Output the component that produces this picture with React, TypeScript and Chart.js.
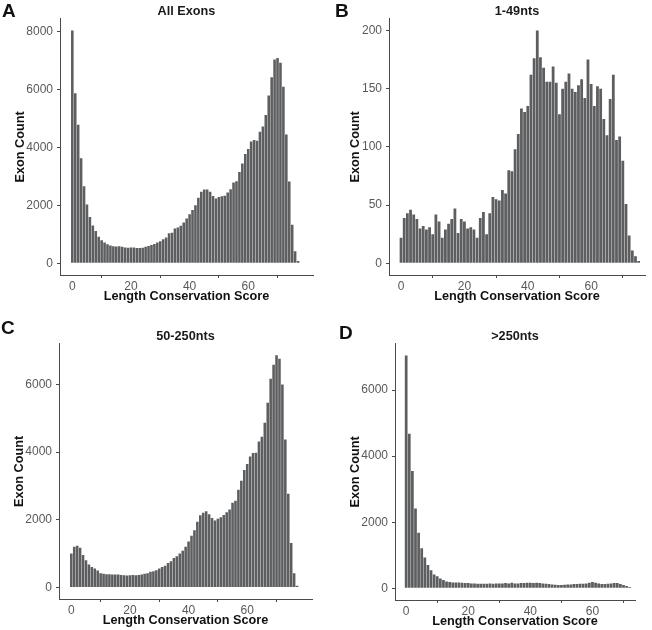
import React, { useEffect, useRef } from "react";
import { Chart, registerables } from "chart.js";

Chart.register(...registerables);

// ---- Data (exon counts per length conservation score bin) ----
const allExons = [
  8050, 5880, 4790, 3630, 2660, 2030, 1600, 1310, 1120, 920,
  800, 720, 660, 620, 590, 580, 590, 570, 550, 540,
  550, 550, 530, 530, 540, 570, 600, 630, 670, 720,
  760, 830, 890, 1040, 1060, 1200, 1240, 1300, 1410, 1550,
  1700, 1840, 2010, 2270, 2470, 2550, 2550, 2470, 2330, 2240,
  2290, 2320, 2340, 2450, 2560, 2790, 2840, 3160, 3450, 3780,
  3950, 4210, 4260, 4240, 4550, 4730, 5130, 5800, 6430, 7040,
  7100, 6930, 6100, 4450, 2830, 1330, 420, 80,
];

const nts1to49 = [
  22, 39, 43, 46, 42, 38, 30, 32, 29, 31,
  25, 42, 36, 22, 29, 34, 38, 47, 26, 38,
  36, 30, 31, 29, 22, 39, 44, 25, 43, 57,
  55, 54, 63, 60, 80, 79, 98, 111, 133, 130,
  135, 162, 176, 200, 177, 168, 156, 156, 169, 155,
  128, 150, 156, 163, 150, 147, 153, 158, 142, 175,
  154, 135, 152, 150, 124, 110, 141, 162, 106, 109,
  88, 51, 24, 11, 6, 2,
];

const nts50to250 = [
  1000, 1200, 1230, 1170, 960, 800, 680, 600, 560, 500,
  420, 400, 390, 390, 380, 380, 380, 370, 360, 350,
  360, 370, 360, 370, 380, 400, 420, 460, 480, 510,
  560, 600, 640, 720, 770, 870, 920, 1000, 1080, 1200,
  1360, 1530, 1690, 1940, 2130, 2210, 2250, 2160, 2050, 1980,
  2030, 2070, 2140, 2220, 2300, 2500, 2560, 2890, 3150, 3470,
  3650, 3870, 3970, 3980, 4310, 4450, 4870, 5460, 6170, 6580,
  6860, 6760, 6000, 4370, 2770, 1310, 420, 50,
];

const ntsOver250 = [
  7050, 4680, 3550, 2420, 1680, 1210, 930, 710, 550, 420,
  370, 300, 250, 210, 190, 180, 180, 180, 170, 160,
  160, 150, 150, 140, 140, 140, 140, 150, 140, 150,
  150, 150, 160, 150, 170, 150, 150, 160, 160, 170,
  170, 160, 170, 160, 150, 140, 130, 120, 110, 100,
  100, 110, 120, 120, 130, 130, 140, 140, 150, 170,
  190, 170, 150, 130, 130, 140, 150, 160, 160, 130,
  100, 70, 40, 20,
];

// ---- Tick labels ----
const xTicks = [0, 20, 40, 60];
const yTicksA = [0, 2000, 4000, 6000, 8000];
const yTicksB = [0, 50, 100, 150, 200];
const yTicksC = [0, 2000, 4000, 6000];
const yTicksD = [0, 2000, 4000, 6000];

const titles = ["All Exons", "1-49nts", "50-250nts", ">250nts"];
const letters = ["A", "B", "C", "D"];
const xTitle = "Length Conservation Score";
const yTitle = "Exon Count";

const FONT = "'Liberation Sans', Arial, Helvetica, sans-serif";
const BAR = "#5d5e60";
const AXIS = "#4a4a4a";
const TICKTXT = "#595959";

type Spec = {
  letter: string;
  title: string;
  data: number[];
  yTicks: number[];
  xMin: number;
  xMax: number;
  left: number;
  top: number;
  width: number;
  height: number;
  yWidth: number;
  xHeight: number;
  rightPad: number;
  yTitlePad: number;
  xTitlePadBottom: number;
  letterLeft: number;
  letterTop: number;
};

const specs: Spec[] = [
  {
    letter: letters[0], title: titles[0], data: allExons, yTicks: yTicksA,
    xMin: -4.2, xMax: 82.1,
    left: 0, top: 0, width: 326, height: 305, yWidth: 60, xHeight: 30, rightPad: 13,
    yTitlePad: 12.5, xTitlePadBottom: 0.5, letterLeft: 2, letterTop: 1,
  },
  {
    letter: letters[1], title: titles[1], data: nts1to49, yTicks: yTicksB,
    xMin: -3.8, xMax: 77,
    left: 326, top: 0, width: 326, height: 305, yWidth: 63, xHeight: 30, rightPad: 7,
    yTitlePad: 21.5, xTitlePadBottom: 0.5, letterLeft: 335, letterTop: 1,
  },
  {
    letter: letters[2], title: titles[2], data: nts50to250, yTicks: yTicksC,
    xMin: -4.2, xMax: 82.1,
    left: 0, top: 325, width: 326, height: 305, yWidth: 59, xHeight: 31, rightPad: 14,
    yTitlePad: 11.5, xTitlePadBottom: 1.5, letterLeft: 1, letterTop: 318,
  },
  {
    letter: letters[3], title: titles[3], data: ntsOver250, yTicks: yTicksD,
    xMin: -3.6, xMax: 73.7,
    left: 326, top: 325, width: 326, height: 305, yWidth: 69, xHeight: 30, rightPad: 17,
    yTitlePad: 21.5, xTitlePadBottom: 0.5, letterLeft: 339, letterTop: 323,
  },
];

function Panel({ spec }: { spec: Spec }) {
  const ref = useRef<HTMLCanvasElement | null>(null);

  useEffect(() => {
    if (!ref.current) return;
    const maxV = Math.max(...spec.data);
    const points = spec.data.map((v, i) => ({ x: i, y: v }));
    const tickFont = { family: FONT, size: 12 };
    const titleFont = { family: FONT, size: 12.7, weight: "bold" as const };

    const chart = new Chart(ref.current, {
      type: "bar",
      data: {
        datasets: [
          {
            data: points as any,
            backgroundColor: BAR,
            borderWidth: 0,
            barPercentage: 0.88,
            categoryPercentage: 1,
          },
        ],
      },
      options: {
        responsive: false,
        maintainAspectRatio: false,
        animation: false,
        layout: { padding: { left: 0, right: spec.rightPad, top: 0, bottom: 0 } },
        plugins: {
          legend: { display: false },
          tooltip: { enabled: false },
          title: {
            display: true,
            text: spec.title,
            fullSize: false,
            color: "#1a1a1a",
            font: titleFont,
            padding: { top: 3.5, bottom: 0 },
          },
        },
        scales: {
          x: {
            type: "linear",
            min: spec.xMin,
            max: spec.xMax,
            offset: false,
            afterBuildTicks: (s: any) => {
              s.ticks = xTicks.map((v) => ({ value: v }));
            },
            afterFit: (s: any) => {
              s.height = spec.xHeight;
            },
            ticks: {
              callback: (v: any) => String(v),
              font: tickFont,
              color: TICKTXT,
              padding: 1,
              maxRotation: 0,
              autoSkip: false,
            },
            grid: {
              display: true,
              drawOnChartArea: false,
              drawTicks: true,
              tickLength: 3,
              color: AXIS,
            },
            border: { display: true, color: AXIS, width: 1 },
            title: {
              display: true,
              text: xTitle,
              color: "#111111",
              font: titleFont,
              padding: { top: 0, bottom: spec.xTitlePadBottom },
            },
          },
          y: {
            type: "linear",
            min: -0.05 * maxV,
            max: 1.05 * maxV,
            afterBuildTicks: (s: any) => {
              s.ticks = spec.yTicks.map((v) => ({ value: v }));
            },
            afterFit: (s: any) => {
              s.width = spec.yWidth;
            },
            ticks: {
              callback: (v: any) => String(v),
              font: tickFont,
              color: TICKTXT,
              padding: 4,
              autoSkip: false,
            },
            grid: {
              display: true,
              drawOnChartArea: false,
              drawTicks: true,
              tickLength: 3,
              color: AXIS,
            },
            border: { display: true, color: AXIS, width: 1 },
            title: {
              display: true,
              text: yTitle,
              color: "#111111",
              font: titleFont,
              padding: { top: spec.yTitlePad, bottom: 0 },
            },
          },
        },
      },
    });
    return () => chart.destroy();
  }, [spec]);

  return (
    <>
      <canvas
        ref={ref}
        width={spec.width}
        height={spec.height}
        style={{
          position: "absolute",
          left: spec.left,
          top: spec.top,
          width: spec.width,
          height: spec.height,
        }}
      />
      <div
        style={{
          position: "absolute",
          left: spec.letterLeft,
          top: spec.letterTop,
          fontFamily: FONT,
          fontWeight: "bold",
          fontSize: 19,
          lineHeight: 1,
          color: "#111111",
        }}
      >
        {spec.letter}
      </div>
    </>
  );
}

export default function App() {
  return (
    <div
      style={{
        position: "absolute",
        left: 0,
        top: 0,
        width: 652,
        height: 630,
        background: "#ffffff",
        overflow: "hidden",
      }}
    >
      {specs.map((s) => (
        <Panel key={s.letter} spec={s} />
      ))}
    </div>
  );
}
